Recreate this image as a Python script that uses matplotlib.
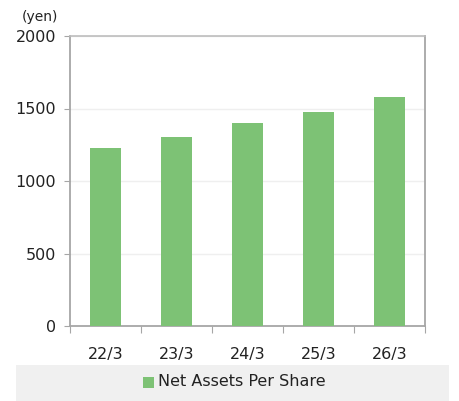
import matplotlib.pyplot as plt
from matplotlib.patches import Rectangle

years = ['22/3', '23/3', '24/3', '25/3', '26/3']
net_assets = [1228, 1303, 1400, 1476, 1579]
series_name = 'Net Assets Per Share'
y_ticks = [0, 500, 1000, 1500, 2000]

bar_color = '#7dc275'
axis_color = '#a6a6a6'

fig = plt.figure(figsize=(4.6, 4.01), dpi=100)
ax = fig.add_axes([70 / 460, 1 - 326 / 401, 355 / 460, 290 / 401])

x = list(range(len(years)))
ax.bar(x, net_assets, width=0.44, color=bar_color, zorder=3)

ax.set_xlim(-0.5, len(years) - 0.5)
ax.set_ylim(0, 2000)
ax.set_yticks(y_ticks)
ax.set_yticklabels([str(v) for v in y_ticks], fontsize=11.5, color='#222222')
ax.yaxis.grid(True, color='#efefef', linewidth=1, zorder=0)

# category labels between boundary ticks
ax.set_xticks([i - 0.5 for i in range(len(years) + 1)])
ax.set_xticklabels([])
ax.set_xticks(x, minor=True)
ax.set_xticklabels(years, minor=True, fontsize=11.5, color='#222222')
ax.tick_params(axis='x', which='major', length=5, color=axis_color, direction='out')
ax.tick_params(axis='x', which='minor', length=0, pad=15)
ax.tick_params(axis='y', length=4, color=axis_color, pad=6)

for side in ['left', 'right', 'top', 'bottom']:
    ax.spines[side].set_color(axis_color)
    ax.spines[side].set_linewidth(1.3)
ax.spines['top'].set_color('#bdbdbd')
ax.spines['top'].set_linewidth(1.2)

fig.text(22 / 460, 1 - 17 / 401, '(yen)', fontsize=10, color='#222222', va='center')

# legend band
fig.patches.append(Rectangle((16 / 460, 0), (449 - 16) / 460, 36 / 401,
                             transform=fig.transFigure, facecolor='#f0f0f0',
                             edgecolor='none', zorder=0))
fig.patches.append(Rectangle((143 / 460, 1 - 388 / 401), 11 / 460, 11 / 401,
                             transform=fig.transFigure, facecolor=bar_color,
                             edgecolor='none', zorder=1))
fig.text(158 / 460, 1 - 382 / 401, series_name, fontsize=11.5, color='#222222', va='center')

fig.savefig('out.png', dpi=100)
